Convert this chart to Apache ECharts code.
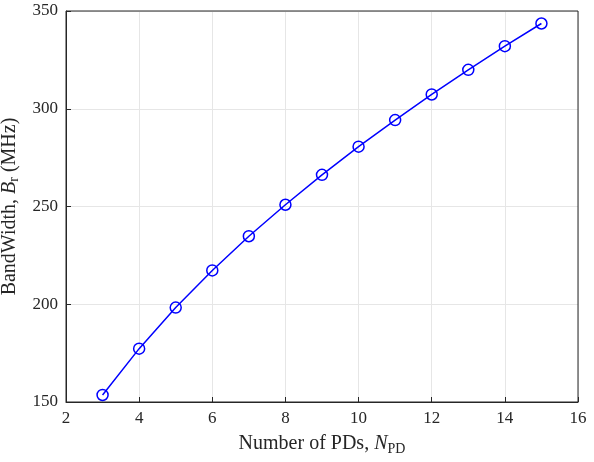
<!DOCTYPE html>
<html><head><meta charset="utf-8">
<script src="https://cdn.jsdelivr.net/npm/echarts@6/dist/echarts.min.js"></script>
<style>html,body{margin:0;padding:0;background:#fff}#c{width:594px;height:462px}</style>
</head><body><div id="c"></div>
<script>
const xValues=[3,4,5,6,7,8,9,10,11,12,13,14,15];
const bandwidth=[153.6,177.3,198.3,217.3,234.8,250.9,266.2,280.6,294.2,307.3,319.9,332.0,343.6];
const chart=echarts.init(document.getElementById('c'));
const F='Liberation Serif';
const rich={a:{fontFamily:F,fontSize:20,color:'#262626'},i:{fontFamily:F,fontSize:20,fontStyle:'italic',color:'#262626'},s:{fontFamily:F,fontSize:14,color:'#262626',padding:[10,0,0,0]}};
chart.setOption({
  animation:false,
  grid:{left:66,right:16,top:11,bottom:60,containLabel:false,outerBoundsMode:'none'},
  xAxis:{type:'value',min:2,max:16,interval:2,
    name:'{a|Number of PDs, }{i|N}{s|PD}',nameLocation:'middle',nameGap:30,
    nameTextStyle:{rich:rich},
    axisLine:{onZero:false,lineStyle:{color:'#262626'}},axisTick:{inside:true,length:5,lineStyle:{color:'#262626'}},
    axisLabel:{fontFamily:F,fontSize:17,color:'#262626',margin:8},
    splitLine:{lineStyle:{color:'#e6e6e6'}}},
  yAxis:{type:'value',min:150,max:350,interval:50,
    name:'{a|BandWidth, }{i|B}{s|r}{a| (MHz)}',nameLocation:'middle',nameGap:44,
    nameTextStyle:{rich:rich},
    axisLine:{show:true,lineStyle:{color:'#262626'}},axisTick:{inside:true,length:5,lineStyle:{color:'#262626'}},
    axisLabel:{fontFamily:F,fontSize:17,color:'#262626',margin:8},
    splitLine:{lineStyle:{color:'#e6e6e6'}}},
  series:[{type:'line',data:xValues.map((x,i)=>[x,bandwidth[i]]),
    lineStyle:{color:'#0000ff',width:1.5},symbol:'circle',symbolSize:11,
    itemStyle:{color:'transparent',borderColor:'#0000ff',borderWidth:1.5}}]
});
chart.setOption({graphic:[{type:'rect',shape:{x:66,y:11,width:594-66-16,height:462-11-60},style:{fill:'none',stroke:'#262626',lineWidth:1},silent:true}]});
</script></body></html>
